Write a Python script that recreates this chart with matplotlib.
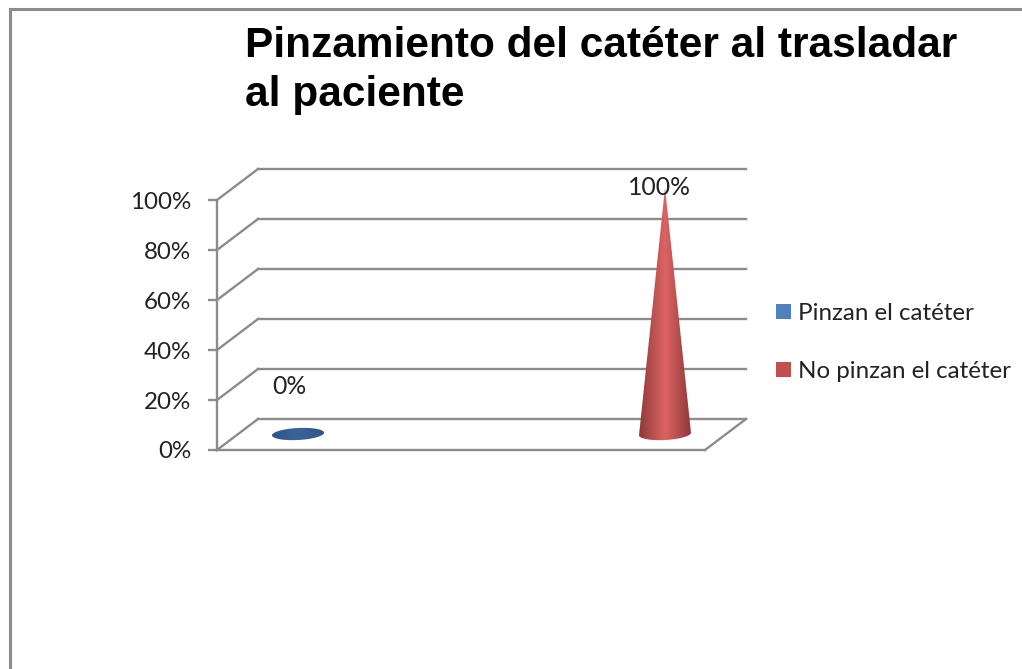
import numpy as np
import matplotlib
matplotlib.use("Agg")
import matplotlib.pyplot as plt
from matplotlib.colors import LinearSegmentedColormap
from matplotlib.lines import Line2D
from matplotlib.patches import Patch, Polygon
from matplotlib.transforms import offset_copy

# --- datos ---
categories = ["Pinzan el catéter", "No pinzan el catéter"]
values = [0, 100]
y_ticks = [0, 20, 40, 60, 80, 100]
title = "Pinzamiento del catéter al trasladar\nal paciente"

# --- estilo ---
W, H = 1022, 669
GRAY = "#8c8c8c"
legend_colors = ["#4f81bd", "#c0504d"]
cone_colors = [["#2f5586", "#3a6499", "#2f5586"], ["#8f3a39", "#dc6463", "#8f3a39"]]
label_offsets = [(11, 63), (14, 13)]
DEPTH_X, DEPTH_Y = 41, 31
BASE_W, BASE_H = 26, 6
BASE_TILT = 0.05

fig = plt.figure(figsize=(W / 100, H / 100), dpi=100, facecolor="white")
# 0% en y=450, 100% en y=200, eje de x=217 a x=705
ax = fig.add_axes([217 / W, 1 - 450 / H, 488 / W, 250 / H])
ax.set_xlim(-61 / 367, 1 + 60 / 367)
ax.set_ylim(0, 100)
ax.patch.set_visible(False)

px_x = 1 / 367   # una unidad x en pixeles
px_y = 100 / 250

for s in ["top", "right"]:
    ax.spines[s].set_visible(False)
for s in ["left", "bottom"]:
    ax.spines[s].set_color(GRAY)
    ax.spines[s].set_linewidth(1.7)
ax.set_xticks([])
ax.set_yticks(y_ticks)
ax.set_yticklabels([f"{v}%" for v in y_ticks], family="Lato", fontsize=17.4, color="#222222")
ax.tick_params(axis="y", length=6.5, width=1.7, color=GRAY, pad=12)

# rejilla del fondo y suelo, desplazados por la profundidad
back = offset_copy(ax.transData, fig, x=DEPTH_X, y=DEPTH_Y, units="dots")
x0, x1 = ax.get_xlim()
for v in y_ticks:
    ax.plot([x0, x1], [v, v], transform=back, color=GRAY, lw=1.7, clip_on=False)
    ax.plot([x0, x0 + DEPTH_X * px_x], [v, v + DEPTH_Y * px_y], color=GRAY, lw=1.7, clip_on=False)
ax.plot([x1, x1 + DEPTH_X * px_x], [0, DEPTH_Y * px_y], color=GRAY, lw=1.7, clip_on=False)

# conos
mid = offset_copy(ax.transData, fig, x=20, y=16, units="dots")
theta = np.linspace(0, np.pi, 60)
for i, v in enumerate(values):
    cos_t = np.cos(theta)
    xs = i + BASE_W * px_x * cos_t
    tilt = BASE_W * BASE_TILT * px_y * cos_t
    ys = tilt - BASE_H * px_y * np.sin(theta)
    if v > 0:
        tip = v * 0.985
        pts = np.column_stack([np.r_[xs, i], np.r_[ys, tip]])
    else:
        ys_top = tilt + BASE_H * px_y * np.sin(theta)
        pts = np.column_stack([np.r_[xs, xs[::-1]], np.r_[ys, ys_top[::-1]]])
    cmap = LinearSegmentedColormap.from_list("cono", cone_colors[i])
    top = max(v, (BASE_H + 2) * px_y)
    im = ax.imshow(np.linspace(0, 1, 128)[None, :], cmap=cmap, aspect="auto", zorder=3,
                   extent=[i - BASE_W * px_x, i + BASE_W * px_x, -(BASE_H + 2) * px_y, top],
                   transform=mid)
    clip = Polygon(pts, closed=True, transform=mid, fc="none", ec="none")
    ax.add_patch(clip)
    im.set_clip_box(fig.bbox)
    im.set_clip_path(clip)
    ax.annotate(f"{v}%", (i, v), xytext=label_offsets[i], textcoords="offset pixels",
                ha="center", va="center", family="Lato", fontsize=17.8, color="#222222",
                zorder=5, annotation_clip=False)
ax.set_xlim(x0, x1)
ax.set_ylim(0, 100)

# leyenda
handles = [Patch(fc=c, ec="none", label=n) for c, n in zip(legend_colors, categories)]
fig.legend(handles=handles, loc="center left", bbox_to_anchor=(754 / W, 1 - 342.5 / H),
           frameon=False, prop={"family": "Lato", "size": 17.4}, labelcolor="#222222",
           handlelength=0.62, handleheight=0.62, handletextpad=0.3, labelspacing=1.52)

fig.text(245 / W, 1 - 26 / H, title, family="Liberation Sans", fontweight="bold", fontsize=30.5,
         color="black", ha="left", va="top", linespacing=1.28)

# marco exterior
fig.add_artist(Line2D([9.5 / W, 1], [1 - 8.5 / H, 1 - 8.5 / H], color=GRAY, lw=2.2))
fig.add_artist(Line2D([9.5 / W, 9.5 / W], [0, 1 - 8.5 / H], color=GRAY, lw=2.2))

fig.savefig("out.png", dpi=100)
